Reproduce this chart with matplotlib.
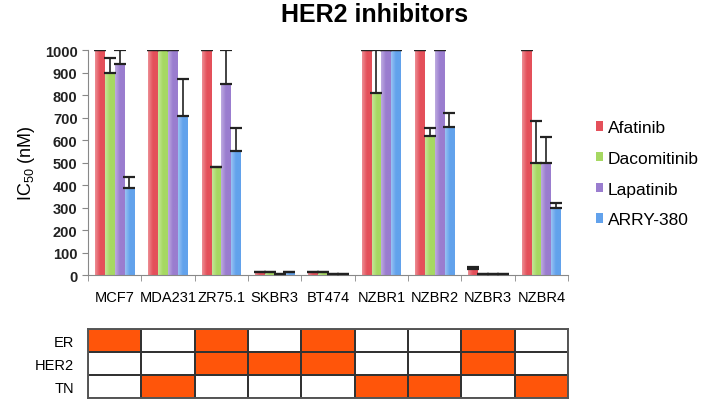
import matplotlib
matplotlib.use("Agg")
import matplotlib.pyplot as plt
from matplotlib.colors import ListedColormap, LinearSegmentedColormap, to_rgb
import numpy as np

plt.rcParams['font.family'] = ['Liberation Sans', 'DejaVu Sans']
plt.rcParams['mathtext.default'] = 'regular'

cell_lines = ["MCF7", "MDA231", "ZR75.1", "SKBR3", "BT474",
              "NZBR1", "NZBR2", "NZBR3", "NZBR4"]
drugs = ["Afatinib", "Dacomitinib", "Lapatinib", "ARRY-380"]

# IC50 (nM) per drug, one value per cell line
afatinib = [1000, 1000, 1000, 12, 12, 1000, 1000, 25, 1000]
dacomitinib = [900, 1000, 480, 12, 12, 810, 620, 3, 500]
lapatinib = [940, 1000, 850, 5, 5, 1000, 1000, 3, 500]
arry380 = [385, 705, 550, 12, 5, 1000, 660, 3, 300]

# upper error bars
afatinib_err = [0, 0, 0, 0, 0, 0, 0, 10, 0]
dacomitinib_err = [65, 0, 0, 0, 0, 190, 35, 0, 185]
lapatinib_err = [60, 0, 150, 0, 0, 0, 0, 0, 115]
arry380_err = [50, 165, 105, 0, 0, 0, 60, 0, 20]

# receptor status table
status_rows = ["ER", "HER2", "TN"]
er = [1, 0, 1, 0, 1, 0, 0, 1, 0]
her2 = [0, 0, 1, 1, 1, 0, 0, 1, 0]
tn = [0, 1, 0, 0, 0, 1, 1, 0, 1]

values = [afatinib, dacomitinib, lapatinib, arry380]
errors = [afatinib_err, dacomitinib_err, lapatinib_err, arry380_err]
colors = ["#e4505a", "#a6d862", "#9a7dcf", "#62a2ec"]


def gradient_cmap(c):
    r, g, b = to_rgb(c)
    light = (r + (1 - r) * 0.35, g + (1 - g) * 0.35, b + (1 - b) * 0.35)
    return LinearSegmentedColormap.from_list("g", [light, c, c])


fig = plt.figure(figsize=(7.02, 4.02), dpi=100)
ax = fig.add_axes([0.1254, 0.3134, 0.6838, 0.5597])

x = np.arange(len(cell_lines))
width = 0.184
grad = np.linspace(0, 1, 32).reshape(1, -1)
for i, (vals, errs, c) in enumerate(zip(values, errors, colors)):
    pos = x + (i - 1.5) * width
    bars = ax.bar(pos, vals, width, color=c, label=drugs[i], zorder=2)
    cm = gradient_cmap(c)
    for rect in bars:
        x0 = rect.get_x()
        h = rect.get_height()
        im = ax.imshow(grad, cmap=cm, aspect="auto", zorder=2.5,
                       extent=[x0, x0 + rect.get_width(), 0, h])
        im.set_clip_path(rect)
    ax.errorbar(pos, vals, yerr=[np.zeros(len(errs)), errs], fmt="none",
                ecolor="#222222", elinewidth=1.2, capsize=4, capthick=1.6,
                zorder=3)

ax.set_xlim(-0.5, len(cell_lines) - 0.5)
ax.set_ylim(0, 1000)
ax.set_yticks(np.arange(0, 1001, 100))
ax.set_xticks(x)
ax.set_xticklabels(cell_lines, fontsize=10.5)
ax.set_xticks(np.arange(-0.5, len(cell_lines)), minor=True)
ax.tick_params(axis="x", which="major", length=0, pad=11)
ax.tick_params(axis="x", which="minor", length=4, color="#888888")
ax.tick_params(axis="y", length=4, color="#888888", labelsize=10.5)
for lab in ax.get_yticklabels():
    lab.set_fontweight("bold")
    lab.set_color("#222222")
for s in ["top", "right"]:
    ax.spines[s].set_visible(False)
for s in ["left", "bottom"]:
    ax.spines[s].set_color("#888888")
ax.set_ylabel("IC$_{50}$ (nM)", fontsize=13, labelpad=6)

fig.text(0.534, 0.962, "HER2 inhibitors", ha="center", va="center",
         fontsize=18, fontweight="bold")

leg = ax.legend(loc="center left", bbox_to_anchor=(1.025, 0.45), frameon=False,
                fontsize=12.5, handlelength=0.45, handleheight=0.45,
                handletextpad=0.25, labelspacing=0.9)

# status table
tab = fig.add_axes([0.1254, 0.0075, 0.6838, 0.1716])
grid = np.array([er, her2, tn])
tab.pcolormesh(grid, cmap=ListedColormap(["white", "#ff550a"]),
               edgecolors="#333333", linewidth=1.4)
tab.set_xlim(0, len(cell_lines))
tab.set_ylim(len(status_rows), 0)
tab.set_xticks([])
tab.set_yticks(np.arange(len(status_rows)) + 0.5)
tab.set_yticklabels(status_rows, fontsize=10.5)
tab.tick_params(axis="y", length=0, pad=10)
for s in tab.spines.values():
    s.set_color("#555555")
    s.set_linewidth(1.4)

fig.savefig("out.png", dpi=100)
